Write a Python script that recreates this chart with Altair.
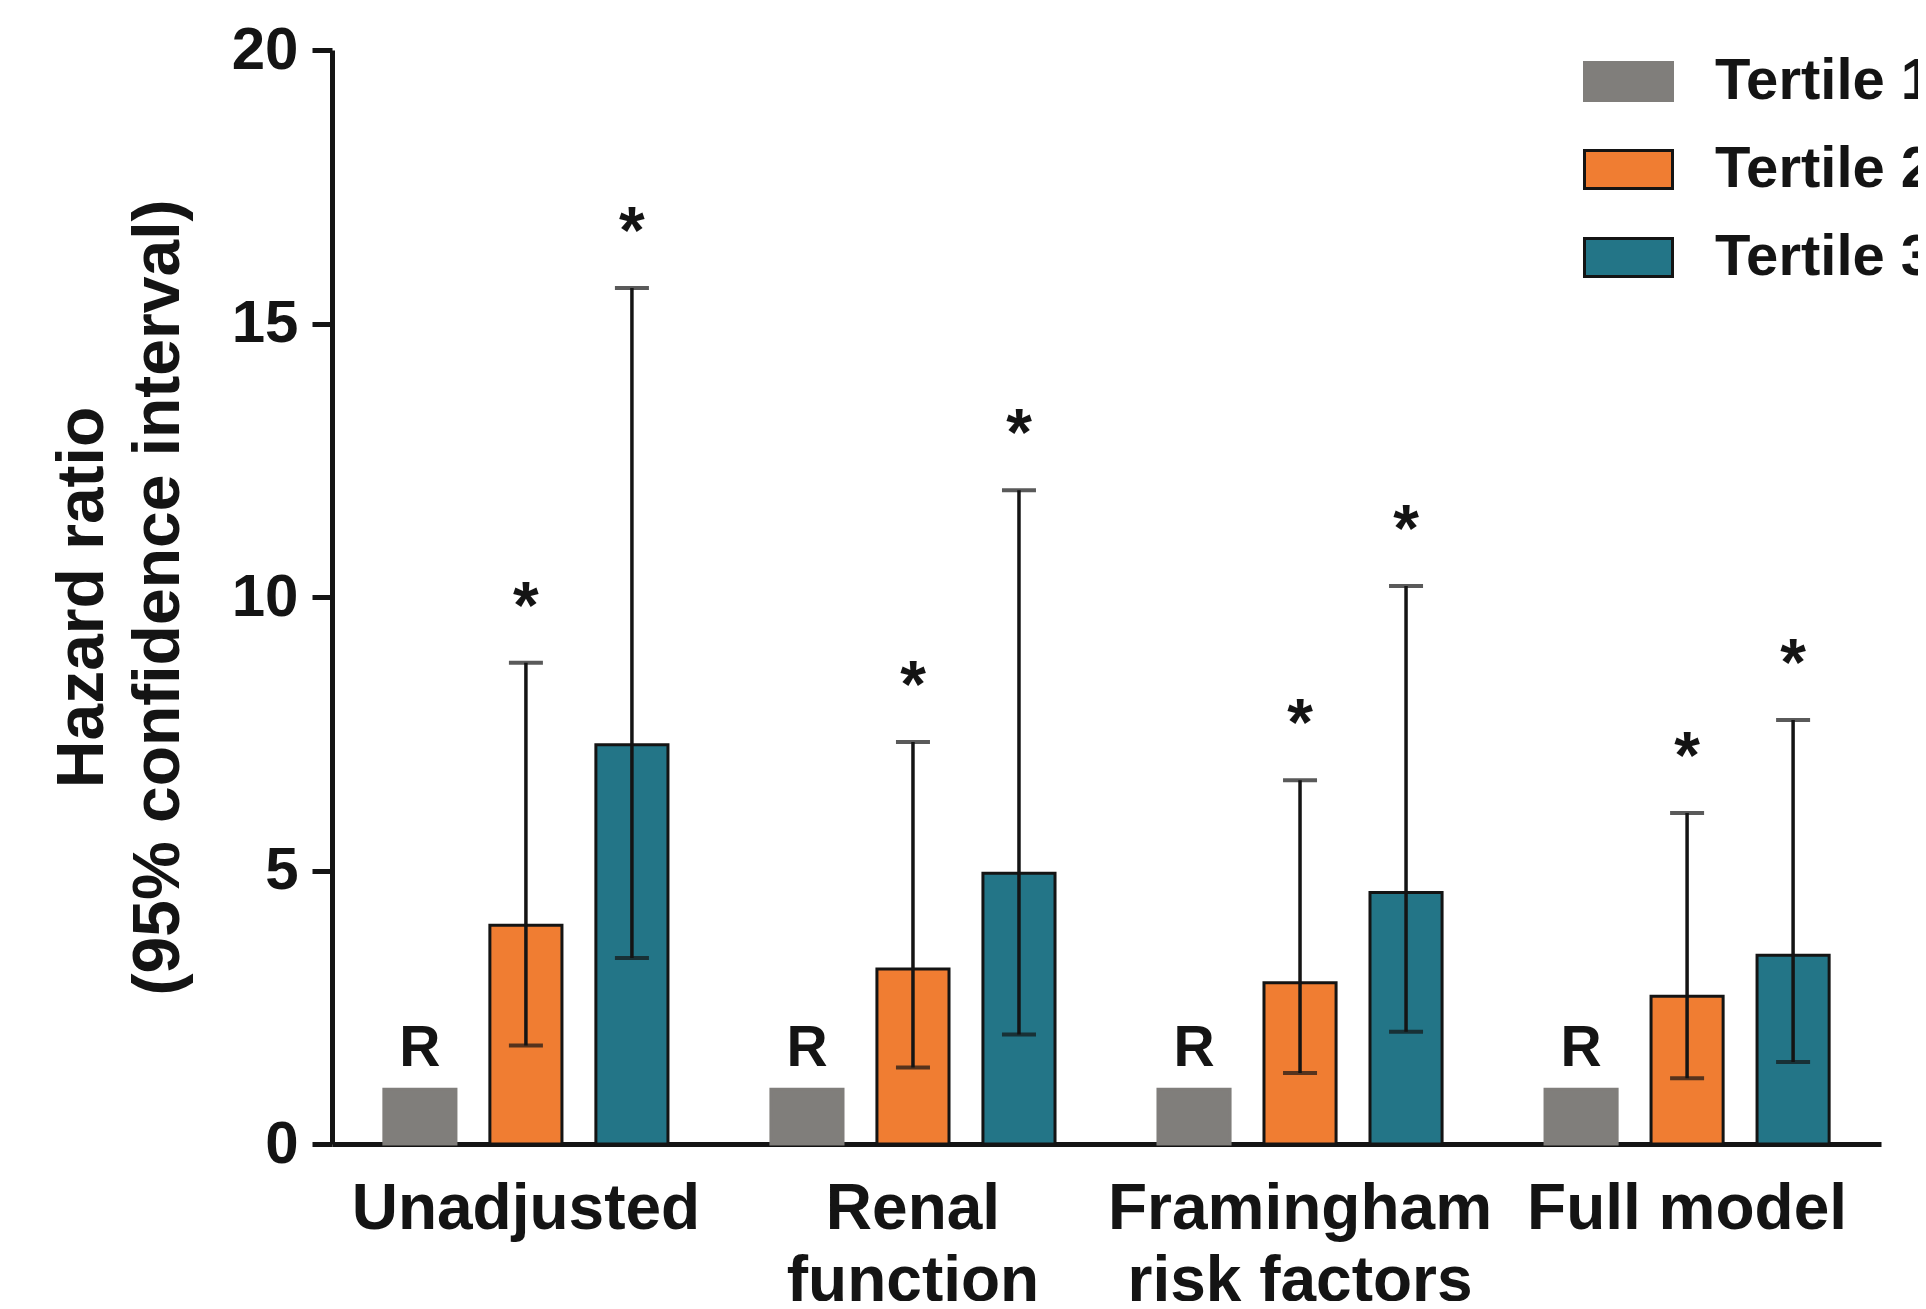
import altair as alt
import pandas as pd

# ---- data ----
groups = ["Unadjusted", "Renal function", "Framingham risk factors", "Full model"]
group_lines = [["Unadjusted"], ["Renal", "function"], ["Framingham", "risk factors"], ["Full model"]]
tertiles = ["Tertile 1", "Tertile 2", "Tertile 3"]

hr_t1 = [1.0, 1.0, 1.0, 1.0]
hr_t2 = [4.0, 3.2, 2.95, 2.7]
hr_t3 = [7.3, 4.95, 4.6, 3.45]
lo_t2 = [1.8, 1.4, 1.3, 1.2]
hi_t2 = [8.8, 7.35, 6.65, 6.05]
lo_t3 = [3.4, 2.0, 2.05, 1.5]
hi_t3 = [15.65, 11.95, 10.2, 7.75]
note_t1 = ["R", "R", "R", "R"]
note_t2 = ["*", "*", "*", "*"]
note_t3 = ["*", "*", "*", "*"]

fill_colors = ["#807E7B", "#F07D32", "#237587"]
stroke_colors = ["#807E7B", "#141414", "#141414"]
y_ticks = [0, 5, 10, 15, 20]
y_title = ["Hazard ratio", "(95% confidence interval)"]

FONT = "Liberation Sans"
INK = "#141414"

rows = []
for i, g in enumerate(groups):
    rows.append(dict(group=g, tertile=tertiles[0], hr=hr_t1[i], lo=None, hi=None, note=note_t1[i]))
    rows.append(dict(group=g, tertile=tertiles[1], hr=hr_t2[i], lo=lo_t2[i], hi=hi_t2[i], note=note_t2[i]))
    rows.append(dict(group=g, tertile=tertiles[2], hr=hr_t3[i], lo=lo_t3[i], hi=hi_t3[i], note=note_t3[i]))
df = pd.DataFrame(rows)
df["note_y"] = df["hi"].fillna(df["hr"])

# label expression splitting category names into lines
parts = []
for g, lines in zip(groups, group_lines):
    arr = "[" + ", ".join("'" + s + "'" for s in lines) + "]"
    parts.append(f"datum.label == '{g}' ? {arr} : ")
label_expr = "".join(parts) + "datum.label"

x_axis = alt.Axis(
    title=None, ticks=False, domainWidth=5, domainColor=INK,
    labelAngle=0, labelFont=FONT, labelFontSize=64, labelFontWeight="bold",
    labelColor=INK, labelBaseline="alphabetic", labelPadding=84,
    labelLineHeight=72, labelLimit=1000, labelOverlap=False, labelFlush=False,
    labelExpr=label_expr,
)
y_axis = alt.Axis(
    values=y_ticks, grid=False, domainWidth=5, domainColor=INK,
    tickWidth=5, tickSize=20, tickColor=INK,
    labelFont=FONT, labelFontSize=60, labelFontWeight="bold", labelColor=INK,
    labelPadding=14,
    title=y_title, titleFont=FONT, titleFontSize=66, titleFontWeight="bold",
    titleColor=INK, titleAngle=270, titleAlign="center", titleBaseline="alphabetic",
    titleX=-230, titleY=547, titleLineHeight=76,
)

X = alt.X("group:N", sort=groups,
          scale=alt.Scale(paddingInner=0.266, paddingOuter=0.134), axis=x_axis)
XO = alt.XOffset("tertile:N", sort=tertiles,
                 scale=alt.Scale(paddingInner=0.32, paddingOuter=0))
yscale = alt.Scale(domain=[0, 20], nice=False)

legend = alt.Legend(
    title=None, orient="none", legendX=1251, legendY=-14, direction="vertical",
    symbolType="M-1,-0.432L1,-0.432L1,0.432L-1,0.432Z", symbolSize=7744,
    symbolStrokeWidth=3, labelFont=FONT, labelFontSize=58, labelFontWeight="bold",
    labelColor=INK, labelOffset=41, rowPadding=13, padding=0, labelLimit=1000,
)

base = alt.Chart(df)

bars = base.mark_bar(strokeWidth=3).encode(
    x=X, xOffset=XO,
    y=alt.Y("hr:Q", scale=yscale, axis=y_axis),
    fill=alt.Fill("tertile:N", sort=tertiles,
                  scale=alt.Scale(domain=tertiles, range=fill_colors), legend=legend),
    stroke=alt.Stroke("tertile:N", sort=tertiles,
                      scale=alt.Scale(domain=tertiles, range=stroke_colors), legend=legend),
)

ci = base.transform_filter("isValid(datum.lo)")

rule = ci.mark_rule(color=INK, strokeWidth=3.5).encode(
    x=X, xOffset=XO,
    y=alt.Y("lo:Q", scale=yscale, axis=y_axis), y2="hi:Q",
)
cap_hi = ci.mark_tick(color=INK, size=34, thickness=4).encode(
    x=X, xOffset=XO, y=alt.Y("hi:Q", scale=yscale, axis=y_axis),
)
cap_lo = ci.mark_tick(color=INK, size=34, thickness=4).encode(
    x=X, xOffset=XO, y=alt.Y("lo:Q", scale=yscale, axis=y_axis),
)

stars = base.transform_filter("datum.note == '*'").mark_text(
    font=FONT, fontSize=66, fontWeight="bold", color=INK,
    baseline="alphabetic", align="center", dy=-35,
).encode(x=X, xOffset=XO, y=alt.Y("note_y:Q", scale=yscale, axis=y_axis), text="note:N")

refs = base.transform_filter("datum.note == 'R'").mark_text(
    font=FONT, fontSize=57, fontWeight="bold", color=INK,
    baseline="alphabetic", align="center", dy=-23,
).encode(x=X, xOffset=XO, y=alt.Y("note_y:Q", scale=yscale, axis=y_axis), text="note:N")

chart = alt.layer(bars, rule, cap_hi, cap_lo, stars, refs).properties(
    width=1549, height=1094,
    autosize=alt.AutoSizeParams(type="none"),
    padding={"left": 324, "top": 42, "right": 37, "bottom": 157},
    background="#FFFFFF",
).configure_view(stroke=None)

chart.save("out.html", embed_options={"renderer": "svg", "actions": False})
